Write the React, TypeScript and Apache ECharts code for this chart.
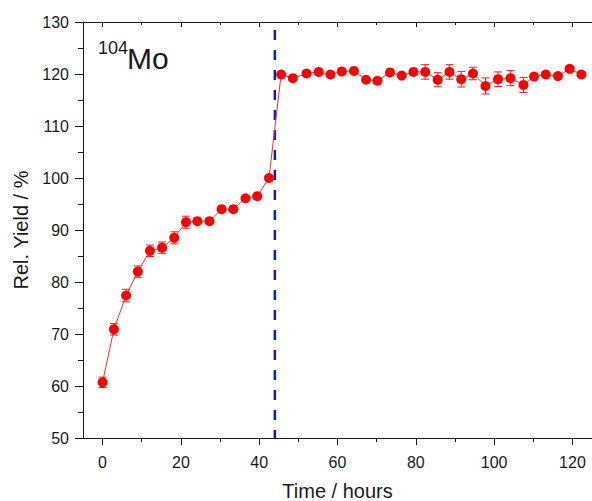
import React, { useEffect, useRef } from 'react';
import * as echarts from 'echarts';

// Measurements before the beam change (hours, relative yield %, error %)
const timeBefore = [0, 2.9, 6.0, 9.0, 12.1, 15.2, 18.3, 21.3, 24.2, 27.3, 30.4, 33.4, 36.5, 39.5, 42.5];
const yieldBefore = [60.7, 70.9, 77.4, 82.0, 86.0, 86.6, 88.5, 91.5, 91.7, 91.7, 94.0, 94.0, 96.1, 96.5, 100.0];
const errBefore = [1.0, 1.1, 1.2, 1.1, 1.1, 1.1, 1.15, 1.15, 0.4, 0.4, 0.4, 0.4, 0.4, 0.4, 0.4];

// Measurements after the beam change
const timeAfter = [45.6, 48.6, 52.1, 55.2, 58.2, 61.1, 64.2, 67.3, 70.2, 73.4, 76.4, 79.4, 82.4,
  85.6, 88.6, 91.6, 94.6, 97.8, 101.0, 104.2, 107.5, 110.2, 113.2, 116.3, 119.3, 122.3];
const yieldAfter = [119.9, 119.2, 120.1, 120.4, 119.9, 120.5, 120.6, 118.9, 118.7, 120.3, 119.7, 120.4, 120.4,
  118.9, 120.4, 119.0, 120.1, 117.7, 119.0, 119.2, 117.9, 119.5, 119.9, 119.6, 121.0, 119.9];
const errAfter = [0.4, 0.4, 0.4, 0.4, 0.4, 0.4, 0.4, 0.4, 0.4, 0.4, 0.4, 0.4, 1.4,
  1.35, 1.4, 1.5, 1.2, 1.55, 1.4, 1.45, 1.45, 0.4, 0.4, 0.4, 0.4, 0.4];

const beamChangeTime = 44;
const xMajorTicks = [0, 20, 40, 60, 80, 100, 120];
const xMinorTicks = [10, 30, 50, 70, 90, 110];
const xRange = [-5, 125];
const yRange = [50, 130];

const FONT = '"Liberation Sans", Arial, sans-serif';
const INK = '#1a1a1a';

export default function App() {
  const ref = useRef<HTMLDivElement>(null);

  useEffect(() => {
    const chart = echarts.init(ref.current!, null, { renderer: 'svg' });
    const times = [...timeBefore, ...timeAfter];
    const yields = [...yieldBefore, ...yieldAfter];
    const errs = [...errBefore, ...errAfter];
    const points = times.map((t, i) => [t, yields[i]]);
    const errData = times.map((t, i) => [t, yields[i], errs[i]]);

    const xBase = {
      type: 'value',
      min: xRange[0],
      max: xRange[1],
      splitLine: { show: false },
      gridIndex: 0,
    };

    const option: any = {
      animation: false,
      grid: { left: 83, right: 0, top: 22, bottom: 63, containLabel: false, outerBoundsMode: 'none' },
      xAxis: [
        {
          ...xBase,
          position: 'bottom',
          axisLine: { show: true, onZero: false, lineStyle: { color: INK, width: 1 } },
          axisTick: { show: true, inside: false, length: 7, customValues: xMajorTicks, lineStyle: { color: INK, width: 1 } },
          axisLabel: { show: true, customValues: xMajorTicks, fontSize: 16, color: INK, fontFamily: FONT, margin: 16 },
          name: 'Time / hours',
          nameLocation: 'middle',
          nameGap: 43,
          nameTextStyle: { fontSize: 20, color: INK, fontFamily: FONT },
        },
        {
          ...xBase,
          position: 'bottom',
          axisLine: { show: false, onZero: false },
          axisTick: { show: true, inside: false, length: 4, customValues: xMinorTicks, lineStyle: { color: INK, width: 1 } },
          axisLabel: { show: false },
        },
        {
          ...xBase,
          position: 'top',
          axisLine: { show: true, onZero: false, lineStyle: { color: INK, width: 1 } },
          axisTick: { show: true, inside: true, length: 5, customValues: xMajorTicks, lineStyle: { color: INK, width: 1 } },
          axisLabel: { show: false },
        },
        {
          ...xBase,
          position: 'top',
          axisLine: { show: false, onZero: false },
          axisTick: { show: true, inside: true, length: 3, customValues: xMinorTicks, lineStyle: { color: INK, width: 1 } },
          axisLabel: { show: false },
        },
      ],
      yAxis: {
        type: 'value',
        min: yRange[0],
        max: yRange[1],
        interval: 10,
        position: 'left',
        axisLine: { show: true, onZero: false, lineStyle: { color: INK, width: 1 } },
        axisTick: { show: true, inside: false, length: 8, lineStyle: { color: INK, width: 1 } },
        minorTick: { show: true, splitNumber: 2, length: 5, lineStyle: { color: INK, width: 1 } },
        splitLine: { show: false },
        minorSplitLine: { show: false },
        axisLabel: { fontSize: 16, color: INK, fontFamily: FONT, margin: 14 },
        name: 'Rel. Yield / %',
        nameLocation: 'middle',
        nameGap: 45,
        nameTextStyle: { fontSize: 20, color: INK, fontFamily: FONT },
      },
      series: [
        {
          type: 'line',
          data: [[beamChangeTime, yRange[1]], [beamChangeTime, yRange[0]]],
          xAxisIndex: 0,
          yAxisIndex: 0,
          symbol: 'none',
          silent: true,
          lineStyle: { color: '#0a1fb8', width: 2.5, type: [10, 10], dashOffset: 12 },
          z: 1,
        },
        {
          type: 'custom',
          data: errData,
          xAxisIndex: 0,
          yAxisIndex: 0,
          encode: { x: 0, y: 1 },
          z: 2,
          renderItem: (_params: any, api: any) => {
            const x = api.value(0);
            const y = api.value(1);
            const e = api.value(2);
            const top = api.coord([x, y + e]);
            const bot = api.coord([x, y - e]);
            const hw = 4;
            const style = { stroke: '#ff1a1a', lineWidth: 1 };
            return {
              type: 'group',
              children: [
                { type: 'line', shape: { x1: top[0], y1: top[1], x2: bot[0], y2: bot[1] }, style },
                { type: 'line', shape: { x1: top[0] - hw, y1: top[1], x2: top[0] + hw, y2: top[1] }, style },
                { type: 'line', shape: { x1: bot[0] - hw, y1: bot[1], x2: bot[0] + hw, y2: bot[1] }, style },
              ],
            };
          },
        },
        {
          type: 'line',
          data: points,
          xAxisIndex: 0,
          yAxisIndex: 0,
          symbol: 'circle',
          symbolSize: 10,
          itemStyle: { color: '#ff0000', borderWidth: 0 },
          lineStyle: { color: '#ff2a2a', width: 1 },
          z: 3,
        },
      ],
      graphic: [
        {
          type: 'text',
          x: 98,
          y: 47.5,
          style: { text: '104', fontSize: 18, fill: INK, fontFamily: FONT, verticalAlign: 'middle', align: 'left' },
        },
        {
          type: 'text',
          x: 127,
          y: 58,
          style: { text: 'Mo', fontSize: 30, fill: INK, fontFamily: FONT, verticalAlign: 'middle', align: 'left' },
        },
      ],
    };

    chart.setOption(option);
    return () => chart.dispose();
  }, []);

  return <div ref={ref} style={{ position: 'absolute', left: 0, top: 0, width: 592, height: 501 }} />;
}
